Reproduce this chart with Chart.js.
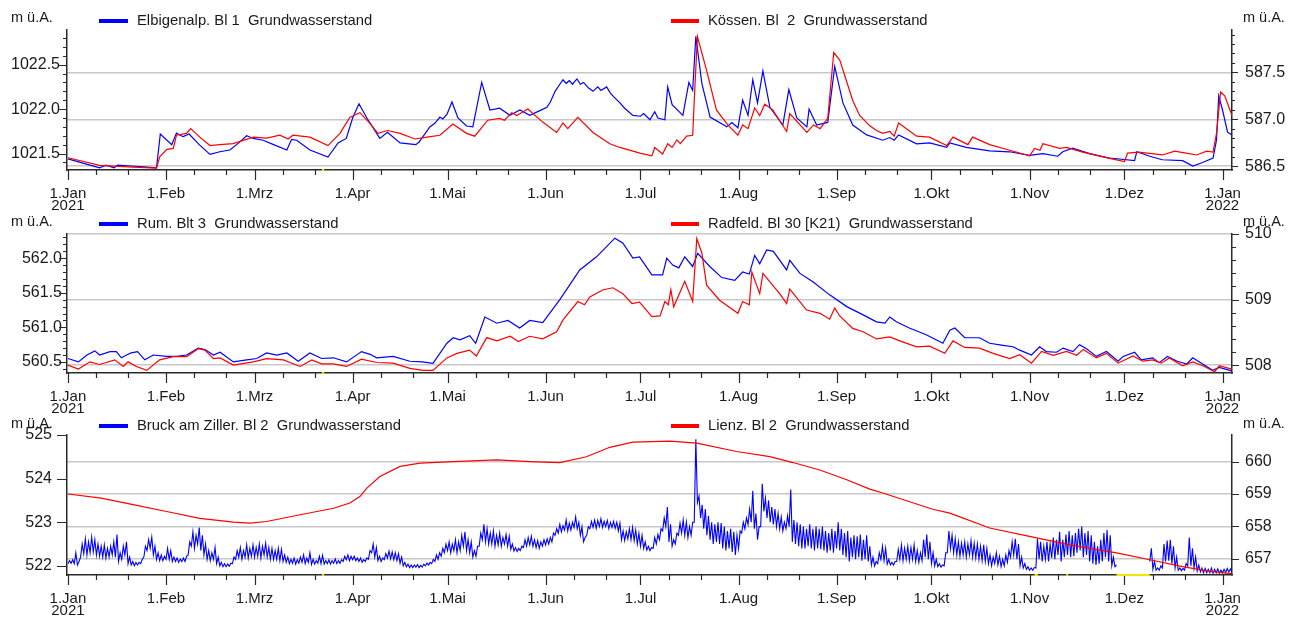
<!DOCTYPE html>
<html>
<head>
<meta charset="utf-8">
<script src="https://cdn.jsdelivr.net/npm/chart.js@4.4.1/dist/chart.umd.min.js"></script>
<style>
  html, body { margin: 0; padding: 0; background: #fff; }
  #wrap { position: relative; width: 1301px; height: 619px; overflow: hidden;
          font-family: 'Liberation Sans', Arial, sans-serif; color: #1a1a1a; }
  #wrap canvas { position: absolute; left: 0; top: 0; }
  .txt { position: absolute; white-space: pre; line-height: 16px; }
  .key { position: absolute; height: 3.5px; }
</style>
</head>
<body>
<div id="wrap">
  <canvas id="c1" width="1301" height="619"></canvas>
  <canvas id="c2" width="1301" height="619"></canvas>
  <canvas id="c3" width="1301" height="619"></canvas>
</div>
<script>
// ---- time axis: day number counted from 1 Jan 2021 ----
const monthStarts = [0, 31, 59, 90, 120, 151, 181, 212, 243, 273, 304, 334, 365];
const monthLabels = [['1.Jan', '2021'], '1.Feb', '1.Mrz', '1.Apr', '1.Mai', '1.Jun', '1.Jul',
                     '1.Aug', '1.Sep', '1.Okt', '1.Nov', '1.Dez', ['1.Jan', '2022']];

// ---- series names ----
const namesTop    = ['Elbigenalp. Bl 1  Grundwasserstand', 'Kössen. Bl  2  Grundwasserstand'];
const namesMiddle = ['Rum. Blt 3  Grundwasserstand', 'Radfeld. Bl 30 [K21)  Grundwasserstand'];
const namesBottom = ['Bruck am Ziller. Bl 2  Grundwasserstand', 'Lienz. Bl 2  Grundwasserstand'];
const unitLabel = 'm ü.A.';

// ---- groundwater levels [day, m ü.A.] ----
const elbigenalp = [[0,1021.44],[5,1021.39],[10,1021.34],[12,1021.37],[14.6,1021.34],[15.7,1021.37],[20,1021.36],[24,1021.35],[28,1021.34],[29.2,1021.72],[32.8,1021.60],[34.3,1021.73],[36.4,1021.69],[38.3,1021.72],[41.5,1021.60],[44.9,1021.49],[48,1021.52],[51.2,1021.54],[54,1021.62],[56.5,1021.70],[58.6,1021.67],[61.7,1021.65],[65,1021.60],[69.2,1021.54],[70.7,1021.66],[72.3,1021.65],[76.5,1021.54],[82.2,1021.46],[85.4,1021.62],[88,1021.67],[90,1021.90],[92,1022.06],[94.5,1021.90],[98.6,1021.67],[101,1021.74],[105,1021.62],[110,1021.60],[111,1021.63],[114.4,1021.80],[116,1021.84],[117.6,1021.91],[118.5,1021.89],[119.8,1021.94],[121.4,1022.08],[123.3,1021.90],[126,1021.81],[128,1021.80],[130.8,1022.30],[133.4,1021.99],[136.5,1022.01],[139.7,1021.93],[142.9,1021.99],[146,1021.93],[149,1021.98],[151.4,1022.02],[152.5,1022.08],[154,1022.20],[155.5,1022.28],[156.5,1022.33],[157.5,1022.29],[158.5,1022.32],[159.5,1022.28],[160.9,1022.34],[162,1022.28],[163,1022.30],[164.5,1022.24],[166,1022.20],[167.5,1022.25],[168.5,1022.21],[170.3,1022.25],[171.5,1022.18],[172.5,1022.14],[174.5,1022.07],[176,1022.01],[178.6,1021.93],[181,1021.92],[182,1021.95],[184,1021.88],[185.5,1021.97],[186.5,1021.90],[188.7,1021.88],[189.6,1022.25],[191,1022.05],[194.4,1021.93],[196.3,1022.30],[197.5,1022.21],[198.5,1022.82],[200.4,1022.29],[203,1021.91],[208.3,1021.80],[209.9,1021.85],[211.8,1021.79],[213.3,1022.10],[215,1021.93],[216.5,1022.33],[218,1022.07],[219.7,1022.43],[221.9,1022.02],[226,1021.82],[227.9,1022.22],[230.4,1021.90],[233.6,1021.80],[234.3,1022.00],[236.7,1021.82],[240.2,1021.85],[242.4,1022.48],[245,1022.07],[248.1,1021.82],[252.5,1021.71],[257.6,1021.65],[259.8,1021.68],[261.2,1021.65],[262.6,1021.71],[268.3,1021.61],[272.4,1021.62],[277.8,1021.57],[278.8,1021.62],[284,1021.57],[291.4,1021.53],[297.7,1021.52],[304,1021.48],[308.2,1021.50],[312.9,1021.47],[314.5,1021.52],[317.6,1021.56],[323,1021.50],[329.3,1021.45],[337.2,1021.42],[337.9,1021.52],[342,1021.47],[346,1021.43],[352.4,1021.42],[355.6,1021.36],[358.7,1021.40],[362,1021.45],[363.1,1021.65],[363.8,1022.15],[365,1021.99],[366.6,1021.74],[368,1021.71]];

const koessen = [[0,586.59],[10,586.51],[20.6,586.49],[28,586.48],[29,586.60],[31.3,586.68],[33.3,586.69],[34.3,586.83],[37.5,586.85],[38.8,586.90],[41.7,586.81],[44.9,586.72],[48,586.73],[52.2,586.74],[58.6,586.81],[62.8,586.80],[67,586.83],[69.6,586.79],[71.1,586.83],[76.5,586.81],[82.2,586.72],[86,586.85],[89.1,587.02],[92.3,587.07],[95.4,586.96],[98,586.85],[101,586.88],[105,586.85],[109.7,586.79],[113.5,586.81],[117.6,586.83],[121.7,586.95],[126,586.85],[128.6,586.82],[132.7,586.99],[136.5,587.01],[138,586.99],[140.3,587.07],[141.9,587.04],[145.4,587.11],[150.1,586.97],[154.5,586.86],[156.5,586.96],[158,586.90],[161.2,587.02],[166,586.86],[171.3,586.74],[174.5,586.70],[180.8,586.64],[184.6,586.61],[185.5,586.70],[188,586.63],[189.6,586.74],[191,586.70],[192.5,586.78],[193.6,586.74],[195.6,586.82],[197.5,586.83],[198.2,587.34],[199,587.88],[201.9,587.52],[205,587.10],[208.6,586.94],[211.8,586.83],[213.3,586.94],[215,586.90],[217.1,587.12],[218.7,587.04],[220.3,587.16],[222.8,587.10],[227.2,586.87],[228.2,587.06],[233.6,586.86],[235.7,586.94],[237.8,586.90],[240.2,587.01],[242.1,587.71],[244,587.63],[248.1,587.20],[250.3,587.04],[253.5,586.93],[255.6,586.88],[257.6,586.85],[259.8,586.87],[261.2,586.82],[262.6,586.96],[268.3,586.82],[272.4,586.81],[277.8,586.72],[279.8,586.81],[284.5,586.73],[286,586.81],[291.4,586.73],[297.7,586.67],[304,586.61],[305.6,586.69],[307.3,586.67],[308.2,586.74],[313.5,586.69],[315.7,586.70],[320.8,586.65],[327.1,586.60],[334,586.55],[335,586.64],[338.5,586.65],[346,586.62],[349.9,586.66],[353.5,586.64],[356.8,586.62],[360,586.66],[362,586.65],[363.1,586.85],[364.4,587.29],[365.7,587.25],[368,587.04]];

const rum = [[0,560.55],[3.3,560.50],[6,560.60],[8.5,560.66],[10,560.60],[13.3,560.65],[15.3,560.65],[16.9,560.56],[18.5,560.60],[20,560.63],[22,560.65],[24.3,560.53],[27,560.60],[31.2,560.58],[34.3,560.58],[37.5,560.60],[41.2,560.70],[43.3,560.68],[46,560.60],[48.1,560.64],[52.3,560.50],[56.5,560.53],[59.7,560.55],[62.8,560.63],[66,560.60],[69.2,560.63],[72.8,560.51],[76.5,560.63],[80.2,560.55],[83.9,560.56],[88.1,560.50],[92.8,560.65],[95.5,560.61],[97.6,560.56],[102.8,560.58],[108.1,560.51],[112,560.50],[115.4,560.48],[119.8,560.77],[121.8,560.85],[123.9,560.82],[127,560.88],[128.9,560.77],[131.8,561.15],[135.6,561.06],[139.1,561.10],[142.8,560.99],[146,561.10],[150.1,561.07],[155.5,561.40],[161.8,561.83],[167.1,562.02],[172.9,562.29],[175.4,562.22],[178.6,562.00],[180.7,562.02],[184.6,561.76],[188,561.76],[189.3,562.00],[191.2,561.90],[193.1,561.86],[195,562.02],[197.5,561.88],[199.1,562.07],[202.9,561.88],[206.7,561.72],[210.8,561.68],[213.3,561.80],[215.4,561.77],[217.1,562.04],[218.7,561.92],[220.9,562.12],[223,562.10],[227.2,561.83],[228.2,561.97],[231.4,561.78],[235.5,561.66],[240.8,561.47],[246.2,561.30],[251.4,561.18],[255.6,561.08],[258.3,561.06],[259.8,561.15],[261.9,561.08],[266,560.99],[271.5,560.89],[276.6,560.77],[278.8,560.96],[280.4,560.99],[283.5,560.85],[288.2,560.85],[291.4,560.77],[295.6,560.74],[298.8,560.72],[300.9,560.67],[304.6,560.60],[307.2,560.72],[309.3,560.65],[312.5,560.64],[314.6,560.70],[317.7,560.65],[319.8,560.75],[322,560.69],[325.1,560.58],[328.3,560.65],[332,560.51],[333.6,560.58],[337.2,560.64],[339.3,560.53],[342.9,560.56],[345,560.49],[347.6,560.58],[350.7,560.51],[353.7,560.47],[355.6,560.56],[357.7,560.50],[361.9,560.38],[364,560.42],[367.9,560.37]];

const radfeld = [[0,508.00],[3.3,507.94],[7,508.05],[10,508.01],[14.8,508.08],[17.5,507.98],[19,508.05],[21.7,507.98],[24.9,507.92],[29,508.08],[33.3,508.13],[37.5,508.13],[41.2,508.25],[43.3,508.23],[46,508.10],[48.1,508.11],[52.3,508.00],[58.6,508.05],[62.8,508.10],[68.1,508.08],[73.4,507.98],[77.1,508.08],[80.2,508.02],[83.9,508.02],[88.1,507.98],[92.8,508.09],[97.6,508.04],[102.8,508.03],[108.1,507.95],[112.3,507.92],[115.4,507.92],[119.8,508.11],[123,508.18],[127,508.23],[129.1,508.14],[132.4,508.42],[135.6,508.37],[139.8,508.44],[142.4,508.36],[146,508.44],[150.1,508.40],[154.5,508.51],[156.5,508.69],[161.2,508.97],[163.3,508.92],[165,509.04],[169.2,509.15],[172.3,509.18],[175.4,509.09],[178.3,508.94],[180.7,508.96],[184.6,508.74],[187.2,508.75],[188.7,508.97],[189.8,508.92],[190.6,509.15],[191.5,508.89],[195,509.28],[197.5,508.97],[198.8,509.93],[200.4,509.71],[201.9,509.22],[206,508.99],[211.8,508.79],[213.3,508.97],[215.4,508.92],[216.2,509.42],[218.7,509.09],[219.7,509.40],[225,509.09],[227.2,508.94],[228.2,509.16],[233.5,508.84],[237.8,508.79],[240.8,508.70],[242.4,508.87],[244,508.75],[248.1,508.56],[251.4,508.51],[255.6,508.40],[259.8,508.43],[263,508.37],[268.3,508.28],[272.4,508.29],[277.2,508.18],[279.8,508.37],[283.5,508.27],[288.2,508.26],[292.5,508.18],[297.7,508.10],[300.9,508.16],[304.6,508.03],[307.8,508.21],[311.5,508.15],[315.7,508.21],[318.9,508.15],[321,508.24],[325.1,508.11],[328.3,508.18],[332,508.03],[336.7,508.14],[339.8,508.06],[342.9,508.08],[345.6,508.03],[348.2,508.11],[352.4,507.99],[355.6,508.05],[358.8,507.99],[362.5,507.90],[364,507.99],[367.9,507.94]];

// Bruck am Ziller: daily low and daily high from day 0; null = no record
const bruckLow = [
  522.05,522.06,522.05,522.02,522.20,522.28,522.25,522.30,522.32,522.25,
  522.22,522.20,522.18,522.20,522.25,522.20,522.10,522.15,522.25,522.05,
  522.02,522.00,522.02,522.05,522.20,522.35,522.40,522.25,522.15,522.12,
  522.12,522.15,522.15,522.10,522.10,522.08,522.10,522.10,522.25,522.45,
  522.40,522.50,522.35,522.25,522.15,522.12,522.15,522.05,522.00,521.98,
  521.98,521.99,522.05,522.15,522.20,522.15,522.20,522.18,522.22,522.20,
  522.22,522.18,522.25,522.20,522.15,522.15,522.15,522.12,522.10,522.08,
  522.05,522.06,522.04,522.06,522.08,522.05,522.08,522.03,522.04,522.06,
  522.05,522.04,522.05,522.04,522.06,522.05,522.06,522.10,522.14,522.12,
  522.14,522.12,522.10,522.08,522.10,522.15,522.30,522.20,522.12,522.10,
  522.14,522.18,522.16,522.14,522.12,522.06,522.00,521.98,521.96,521.96,
  521.97,521.96,521.97,522.00,522.02,522.05,522.10,522.15,522.22,522.30,
  522.35,522.30,522.35,522.30,522.35,522.45,522.35,522.30,522.20,522.22,
  522.45,522.60,522.55,522.50,522.50,522.45,522.48,522.45,522.50,522.45,
  522.38,522.34,522.33,522.35,522.42,522.45,522.48,522.45,522.42,522.40,
  522.45,522.48,522.50,522.55,522.70,522.75,522.78,522.82,522.80,522.82,
  522.88,522.85,522.70,522.55,522.70,522.85,522.88,522.86,522.90,522.88,
  522.90,522.85,522.88,522.86,522.80,522.60,522.58,522.62,522.60,522.58,
  522.50,522.45,522.40,522.36,522.35,522.40,522.50,522.60,522.80,522.90,
  522.55,522.45,522.50,522.70,522.75,522.70,522.65,522.70,523.00,523.45,
  523.10,522.85,522.70,522.60,522.50,522.55,522.50,522.40,522.35,522.40,
  522.32,522.25,522.40,522.75,522.85,522.95,523.00,522.85,522.60,522.90,
  523.25,523.10,523.00,522.95,522.90,522.85,522.80,522.85,522.90,522.55,
  522.50,522.45,522.40,522.40,522.45,522.40,522.35,522.40,522.38,522.35,
  522.30,522.35,522.30,522.40,522.35,522.25,522.20,522.10,522.20,522.15,
  522.20,522.12,522.15,522.10,522.02,522.00,522.05,522.15,522.12,522.04,
  522.02,522.02,522.10,522.15,522.12,522.15,522.12,522.15,522.10,522.08,
  522.12,522.20,522.15,522.05,522.00,521.98,521.97,522.00,522.30,522.40,
  522.30,522.25,522.22,522.25,522.20,522.25,522.20,522.18,522.15,522.12,
  522.10,522.05,522.00,522.05,522.02,521.98,522.00,522.08,522.20,522.25,
  522.15,522.00,521.95,521.92,521.90,521.90,521.95,522.15,522.10,522.15,
  522.10,522.18,522.15,522.25,522.10,522.20,522.25,522.20,522.22,522.30,
  522.35,522.20,522.25,522.10,522.05,522.02,522.05,522.10,522.20,522.10,
  522.00,521.98,null,null,null,null,null,null,null,null,
  null,null,522.10,521.92,521.90,521.90,521.95,522.10,522.12,522.05,
  521.95,521.90,521.89,521.90,522.00,522.00,521.95,521.88,521.86,521.84,
  521.84,521.84,521.83,521.84,521.83,521.84,521.85,521.86,521.86
];
const bruckHigh = [
  522.12,522.14,522.30,522.10,522.50,522.62,522.55,522.66,522.60,522.50,
  522.45,522.48,522.40,522.45,522.55,522.72,522.30,522.45,522.55,522.20,
  522.10,522.08,522.08,522.15,522.45,522.60,522.66,522.45,522.30,522.25,
  522.22,522.40,522.35,522.20,522.18,522.16,522.18,522.22,522.55,522.78,
  522.70,522.88,522.70,522.50,522.35,522.30,522.42,522.20,522.08,522.05,
  522.04,522.06,522.20,522.35,522.42,522.35,522.48,522.40,522.48,522.42,
  522.50,522.45,522.52,522.42,522.40,522.35,522.40,522.38,522.25,522.20,
  522.15,522.18,522.14,522.20,522.25,522.18,522.30,522.15,522.12,522.22,
  522.24,522.12,522.14,522.12,522.16,522.12,522.14,522.22,522.25,522.22,
  522.22,522.18,522.18,522.14,522.18,522.35,522.50,522.42,522.22,522.18,
  522.28,522.34,522.32,522.30,522.28,522.20,522.08,522.04,522.02,522.02,
  522.03,522.01,522.04,522.06,522.08,522.15,522.25,522.30,522.40,522.50,
  522.55,522.50,522.60,522.55,522.70,522.78,522.60,522.55,522.35,522.45,
  522.75,522.95,522.85,522.75,522.80,522.70,522.75,522.65,522.72,522.68,
  522.50,522.42,522.40,522.45,522.60,522.65,522.68,522.60,522.58,522.55,
  522.60,522.62,522.65,522.75,522.85,522.95,522.92,523.05,522.98,523.00,
  523.12,523.00,522.90,522.65,522.90,523.02,523.05,523.04,523.08,523.02,
  523.04,523.00,523.02,523.00,522.98,522.80,522.78,522.85,522.88,522.82,
  522.75,522.70,522.55,522.45,522.42,522.65,522.72,522.85,523.10,523.35,
  522.95,522.60,522.75,522.98,523.05,523.00,522.90,523.00,524.90,523.60,
  523.40,523.30,523.15,523.00,522.95,523.00,522.98,522.90,522.80,522.85,
  522.78,522.70,522.80,523.00,523.10,523.30,523.72,523.20,522.90,523.88,
  523.55,523.50,523.35,523.30,523.20,523.12,523.00,523.15,523.75,523.05,
  523.00,522.95,522.90,522.85,522.95,522.85,522.90,522.85,522.90,522.80,
  522.75,522.85,522.80,523.00,522.85,522.75,522.80,522.65,522.70,522.68,
  522.72,522.60,522.70,522.45,522.20,522.10,522.30,522.45,522.40,522.15,
  522.08,522.10,522.38,522.48,522.40,522.45,522.42,522.48,522.35,522.30,
  522.60,522.72,522.55,522.30,522.15,522.05,522.02,522.30,522.80,522.70,
  522.62,522.55,522.52,522.55,522.50,522.58,522.52,522.50,522.45,522.48,
  522.40,522.25,522.20,522.30,522.22,522.15,522.25,522.35,522.55,522.62,
  522.50,522.20,522.05,521.98,521.95,521.96,522.62,522.55,522.45,522.55,
  522.50,522.65,522.60,522.78,522.60,522.72,522.80,522.70,522.75,522.85,
  522.90,522.75,522.80,522.70,522.55,522.45,522.60,522.75,522.82,522.70,
  522.20,522.02,null,null,null,null,null,null,null,null,
  null,null,522.40,522.10,521.95,522.00,522.50,522.58,522.60,522.45,
  522.20,521.95,521.94,522.05,522.65,522.40,522.20,522.02,521.95,521.94,
  521.92,521.95,521.92,521.93,521.90,521.92,521.94,521.93,521.92
];

const lienz = [[0,659.00],[10.5,658.87],[20.6,658.67],[31.2,658.46],[41.7,658.25],[52.3,658.13],[57.6,658.10],[62.8,658.15],[73.4,658.36],[84,658.56],[89.1,658.72],[92.3,658.92],[94.5,659.18],[98.6,659.54],[105,659.85],[111.3,659.95],[121.8,660.00],[135.6,660.05],[146.1,660.00],[155.5,659.97],[163.9,660.15],[171.3,660.44],[178.6,660.60],[190.3,660.63],[198.8,660.57],[211.4,660.31],[221.9,660.15],[229.2,659.97],[237.7,659.74],[246.2,659.44],[253.5,659.15],[257.6,659.03],[273.4,658.53],[278.8,658.41],[291.4,657.95],[304,657.69],[316.7,657.43],[331.5,657.18],[342,656.97],[352.4,656.76],[361,656.61],[367.9,656.54]];

// ---- axis tick values ----
const topLeftTicks = [1021.5, 1022.0, 1022.5];
const topRightTicks = [586.5, 587.0, 587.5];
const midLeftTicks = [560.5, 561.0, 561.5, 562.0];
const midRightTicks = [508, 509, 510];
const botLeftTicks = [522, 523, 524, 525];
const botRightTicks = [657, 658, 659, 660];

// days without records, marked on the time axis
const gapsAll = [[80.3, 81.0]];
const gapsBruck = [[305.6, 306.6], [315.6, 316.2], [331.5, 342.0]];

const FONT = "'Liberation Sans', Arial, sans-serif";
const TXT = '#1a1a1a';
const AXIS = '#2a2a2a';
const GRID = '#c8c8c8';
const BLUE = '#0000ff';
const RED = '#ff0000';
const X_MIN = -0.3, X_MAX = 368;
const X_AXIS_H = 40;

function stepValues(min, max, step) {
  const out = [];
  const k0 = Math.ceil(min / step - 1e-6), k1 = Math.floor(max / step + 1e-6);
  for (let k = k0; k <= k1; k++) out.push(+(k * step).toFixed(4));
  return out;
}

function pairs(list) { return list.map(p => ({ x: p[0], y: p[1] })); }

// daily low at the start of each day, daily high at midday
function dailyRange(low, high) {
  const pts = [];
  low.forEach((v, i) => {
    pts.push({ x: i, y: v });
    pts.push({ x: i + 0.5, y: high[i] });
  });
  return pts;
}

// draws major/minor tick marks and gap markers on the axes
function tickMarks(p) {
  return {
    id: 'tickMarks',
    afterDraw(chart) {
      const ctx = chart.ctx;
      const area = chart.chartArea;
      const xs = chart.scales.x, yl = chart.scales.yL, yr = chart.scales.yR;
      ctx.save();
      ctx.strokeStyle = AXIS;
      ctx.lineWidth = 1.2;
      ctx.beginPath();
      const minorDays = [];
      monthStarts.slice(0, -1).forEach(m => { minorDays.push(m + 9, m + 19); });
      monthStarts.forEach(v => {
        const px = Math.round(xs.getPixelForValue(v)) + 0.5;
        ctx.moveTo(px, area.bottom); ctx.lineTo(px, area.bottom + 10);
      });
      minorDays.forEach(v => {
        const px = Math.round(xs.getPixelForValue(v)) + 0.5;
        ctx.moveTo(px, area.bottom); ctx.lineTo(px, area.bottom + 5);
      });
      const L = p.left, R = p.right;
      if (L.minor) stepValues(L.min, L.max, L.minor).forEach(v => {
        const py = Math.round(yl.getPixelForValue(v)) + 0.5;
        ctx.moveTo(area.left, py); ctx.lineTo(area.left - L.minorLen, py);
      });
      L.ticks.forEach(v => {
        const py = Math.round(yl.getPixelForValue(v)) + 0.5;
        ctx.moveTo(area.left, py); ctx.lineTo(area.left - L.len, py);
      });
      if (R.minor) stepValues(R.min, R.max, R.minor).forEach(v => {
        const py = Math.round(yr.getPixelForValue(v)) + 0.5;
        ctx.moveTo(area.right, py); ctx.lineTo(area.right + R.minorLen, py);
      });
      R.ticks.forEach(v => {
        const py = Math.round(yr.getPixelForValue(v)) + 0.5;
        ctx.moveTo(area.right, py); ctx.lineTo(area.right + R.len, py);
      });
      ctx.stroke();
      ctx.strokeStyle = '#f2e600';
      ctx.lineWidth = 2;
      ctx.beginPath();
      p.gaps.forEach(g => {
        ctx.moveTo(xs.getPixelForValue(g[0]), area.bottom);
        ctx.lineTo(xs.getPixelForValue(g[1]), area.bottom);
      });
      ctx.stroke();
      ctx.restore();
    }
  };
}

function yScale(pos, a) {
  return {
    type: 'linear', position: pos, min: a.min, max: a.max,
    afterBuildTicks: s => { s.ticks = a.ticks.map(v => ({ value: v })); },
    afterFit: s => { s.width = a.width; },
    ticks: {
      autoSkip: false, padding: a.pad, color: TXT,
      font: { family: FONT, size: 16 },
      callback: v => v.toFixed(a.digits)
    },
    grid: pos === 'right'
      ? { display: true, drawOnChartArea: true, drawTicks: false, color: GRID, lineWidth: 1.5 }
      : { display: false, drawTicks: false },
    border: { display: true, color: AXIS, width: 1.5 }
  };
}

function panel(id, p) {
  const ctx = document.getElementById(id);
  return new Chart(ctx, {
    type: 'line',
    data: {
      datasets: [
        { label: p.names[1], data: p.red, yAxisID: 'yR', borderColor: RED, borderWidth: 1.2,
          pointRadius: 0, tension: 0, order: 1 },
        { label: p.names[0], data: p.blue, yAxisID: 'yL', borderColor: BLUE, borderWidth: p.blueWidth,
          pointRadius: 0, tension: 0, spanGaps: false, order: 2 }
      ]
    },
    options: {
      responsive: false, animation: false, events: [],
      layout: { padding: { top: p.top, bottom: 619 - p.bottom - X_AXIS_H, left: 0, right: 0 } },
      plugins: { legend: { display: false }, tooltip: { enabled: false } },
      scales: {
        x: {
          type: 'linear', position: 'bottom', min: X_MIN, max: X_MAX,
          afterBuildTicks: s => { s.ticks = monthStarts.map(v => ({ value: v })); },
          afterFit: s => { s.height = X_AXIS_H; },
          ticks: {
            autoSkip: false, maxRotation: 0, minRotation: 0, padding: 17, color: TXT,
            font: { family: FONT, size: 15, lineHeight: 0.85 },
            callback: (v, i) => monthLabels[i]
          },
          grid: { display: false, drawTicks: false },
          border: { display: true, color: AXIS, width: 1.5 }
        },
        yL: yScale('left', p.left),
        yR: yScale('right', p.right)
      }
    },
    plugins: [tickMarks(p)]
  });
}

panel('c1', {
  top: 30, bottom: 170, names: namesTop, blueWidth: 1.2,
  blue: pairs(elbigenalp), red: pairs(koessen), gaps: gapsAll,
  left:  { min: 1021.315, max: 1022.89, ticks: topLeftTicks, digits: 1, width: 67, pad: 7, len: 8, minor: 0.1, minorLen: 4 },
  right: { min: 586.46, max: 587.95, ticks: topRightTicks, digits: 1, width: 69, pad: 13, len: 6, minor: 0.1, minorLen: 3 }
});

panel('c2', {
  top: 234, bottom: 373, names: namesMiddle, blueWidth: 1.2,
  blue: pairs(rum), red: pairs(radfeld), gaps: gapsAll,
  left:  { min: 560.34, max: 562.35, ticks: midLeftTicks, digits: 1, width: 67, pad: 5, len: 8, minor: 0.1, minorLen: 4 },
  right: { min: 507.88, max: 510.0, ticks: midRightTicks, digits: 0, width: 69, pad: 13, len: 7, minor: 0.2, minorLen: 4 }
});

panel('c3', {
  top: 435, bottom: 575, names: namesBottom, blueWidth: 1.1,
  blue: dailyRange(bruckLow, bruckHigh), red: pairs(lienz), gaps: gapsAll.concat(gapsBruck),
  left:  { min: 521.79, max: 525.0, ticks: botLeftTicks, digits: 0, width: 67, pad: 15, len: 10, minor: 0, minorLen: 0 },
  right: { min: 656.5, max: 660.82, ticks: botRightTicks, digits: 0, width: 69, pad: 13, len: 7, minor: 0, minorLen: 0 }
});

// legends and unit captions
const wrap = document.getElementById('wrap');
function text(str, x, yc, size) {
  const d = document.createElement('div');
  d.className = 'txt';
  d.textContent = str;
  d.style.left = x + 'px';
  d.style.top = (yc - 8) + 'px';
  d.style.fontSize = size + 'px';
  wrap.appendChild(d);
}
function key(color, x0, x1, yc) {
  const d = document.createElement('div');
  d.className = 'key';
  d.style.background = color;
  d.style.left = x0 + 'px';
  d.style.width = (x1 - x0) + 'px';
  d.style.top = (yc - 1.75) + 'px';
  wrap.appendChild(d);
}
[[namesTop, 21, 17], [namesMiddle, 224, 221], [namesBottom, 426, 423]].forEach(([names, ky, uy]) => {
  key(BLUE, 99, 128, ky);
  text(names[0], 137, ky - 1, 14.8);
  key(RED, 671, 699, ky);
  text(names[1], 708, ky - 1, 14.8);
  text(unitLabel, 11, uy, 14.5);
  text(unitLabel, 1243, uy, 14.5);
});
</script>
</body>
</html>
